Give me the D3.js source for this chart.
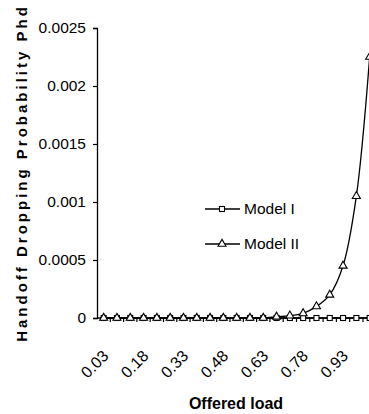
<!DOCTYPE html>
<html>
<head>
<meta charset="utf-8">
<script src="https://cdn.jsdelivr.net/npm/d3@7"></script>
<style>
  body { margin: 0; background: #fff; }
  svg { display: block; font-family: "Liberation Sans", Arial, sans-serif; }
</style>
</head>
<body>
<div id="chart"></div>
<script>
// offered load categories
const loads = ["0.03","0.08","0.13","0.18","0.23","0.28","0.33","0.38","0.43","0.48","0.53",
  "0.58","0.63","0.68","0.73","0.78","0.83","0.88","0.93","0.98","1.03"];
const model1 = [0,0,0,0,0,0,0,0,0,0,0,0,0,0,0,0,0,0,0,0,0];
const model2 = [0,0,0,0,0,0,0,0,0,0,0,0,0,0.00001,0.00002,0.00004,0.0001,0.0002,0.00045,0.00105,0.00225];
const yTicks = [0, 0.0005, 0.001, 0.0015, 0.002, 0.0025];
const yTickLabels = ["0", "0.0005", "0.001", "0.0015", "0.002", "0.0025"];

const W = 369, H = 414;
const mLeft = 97, mTop = 28, plotH = 290, band = 13.3;

const svg = d3.select("#chart").append("svg")
  .attr("width", W).attr("height", H);

const x = d3.scaleBand()
  .domain(loads)
  .range([mLeft, mLeft + band * loads.length])
  .padding(0);

const y = d3.scaleLinear()
  .domain([0, 0.0025])
  .range([mTop + plotH, mTop]);

const cx = d => x(d) + x.bandwidth() / 2;

// y axis
const yAxis = svg.append("g")
  .attr("transform", `translate(${mLeft},0)`)
  .call(d3.axisLeft(y).tickValues(yTicks).tickSize(4).tickPadding(7)
    .tickFormat((d, i) => yTickLabels[i]));
yAxis.selectAll("text").style("font-size", "15.5px").attr("fill", "#000");
yAxis.select(".domain").attr("stroke", "#000").attr("stroke-width", 1.3);
yAxis.selectAll(".tick line").attr("stroke", "#000").attr("stroke-width", 1.2);

// x axis: ticks between categories
const xg = svg.append("g").attr("transform", `translate(0,${mTop + plotH})`);
xg.append("line")
  .attr("x1", mLeft).attr("x2", mLeft + band * loads.length)
  .attr("stroke", "#000").attr("stroke-width", 1.3);
xg.selectAll(".xt")
  .data(loads)
  .enter().append("line")
  .attr("x1", d => x(d) + x.bandwidth()).attr("x2", d => x(d) + x.bandwidth())
  .attr("y1", 0).attr("y2", 4)
  .attr("stroke", "#000").attr("stroke-width", 1.2);

xg.selectAll(".xl")
  .data(loads.filter((d, i) => i % 3 === 0))
  .enter().append("text")
  .attr("transform", d => `translate(${cx(d) + 2},${35}) rotate(-45)`)
  .attr("text-anchor", "end")
  .attr("dy", "0.35em")
  .style("font-size", "16px")
  .text(d => d);

// lines
const line = d3.line()
  .x((d, i) => cx(loads[i]))
  .y(d => y(d));

svg.append("path")
  .datum(model1)
  .attr("fill", "none").attr("stroke", "#000").attr("stroke-width", 1.3)
  .attr("d", line);

svg.append("path")
  .datum(model2)
  .attr("fill", "none").attr("stroke", "#000").attr("stroke-width", 1.3)
  .attr("d", line.curve(d3.curveCatmullRom.alpha(0.5)));

// markers
const sq = 5;
svg.selectAll(".m1")
  .data(model1)
  .enter().append("rect")
  .attr("x", (d, i) => cx(loads[i]) - sq / 2)
  .attr("y", d => y(d) - sq / 2)
  .attr("width", sq).attr("height", sq)
  .attr("fill", "#fff").attr("stroke", "#000").attr("stroke-width", 1.1);

const tri = d3.symbol().type(d3.symbolTriangle).size(28);
svg.selectAll(".m2")
  .data(model2)
  .enter().append("path")
  .attr("d", tri)
  .attr("transform", (d, i) => `translate(${cx(loads[i])},${y(d)})`)
  .attr("fill", "#fff").attr("stroke", "#000").attr("stroke-width", 1.1);

// legend
const legend = [
  { name: "Model I", y: 209, mark: "sq" },
  { name: "Model II", y: 244, mark: "tri" }
];
const lg = svg.selectAll(".lg").data(legend).enter().append("g");
lg.append("line")
  .attr("x1", 205).attr("x2", 240)
  .attr("y1", d => d.y).attr("y2", d => d.y)
  .attr("stroke", "#000").attr("stroke-width", 1.3);
lg.filter(d => d.mark === "sq").append("rect")
  .attr("x", 222 - sq / 2).attr("y", d => d.y - sq / 2)
  .attr("width", sq).attr("height", sq)
  .attr("fill", "#fff").attr("stroke", "#000").attr("stroke-width", 1.1);
lg.filter(d => d.mark === "tri").append("path")
  .attr("d", tri)
  .attr("transform", d => `translate(222,${d.y})`)
  .attr("fill", "#fff").attr("stroke", "#000").attr("stroke-width", 1.1);
lg.append("text")
  .attr("x", 244).attr("y", d => d.y)
  .attr("dy", "0.35em")
  .style("font-size", "15.5px")
  .text(d => d.name);

// axis titles
svg.append("text")
  .attr("text-anchor", "middle")
  .attr("transform", `translate(27,173) rotate(-90)`)
  .style("font-size", "15px").style("font-weight", "bold")
  .style("letter-spacing", "3px")
  .text("Handoff Dropping Probability Phd");

svg.append("text")
  .attr("text-anchor", "middle")
  .attr("x", 236).attr("y", 409)
  .style("font-size", "16px").style("font-weight", "bold")
  .text("Offered load");
</script>
</body>
</html>
